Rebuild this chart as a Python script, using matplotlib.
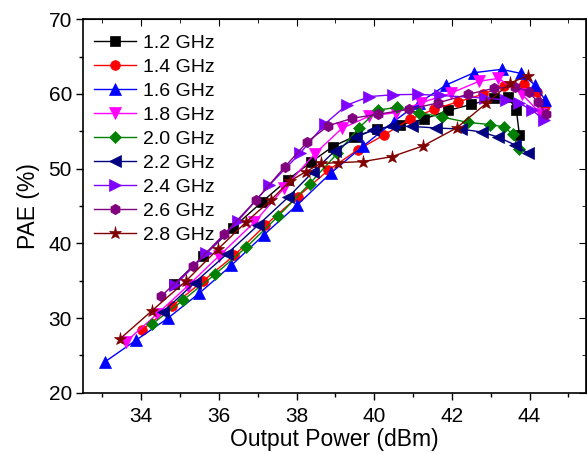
import matplotlib
matplotlib.use("Agg")
import matplotlib.pyplot as plt
from matplotlib.ticker import MultipleLocator

plt.rcParams['font.family'] = ['Liberation Sans', 'DejaVu Sans']

# PAE vs output power, one sweep per frequency
labels = ['1.2 GHz', '1.4 GHz', '1.6 GHz', '1.8 GHz', '2.0 GHz',
          '2.2 GHz', '2.4 GHz', '2.6 GHz', '2.8 GHz']

pout_12 = [34.85, 35.6, 36.37, 37.12, 37.77, 38.38, 38.93, 39.48, 40.08, 40.67,
           41.29, 41.91, 42.5, 43.08, 43.45, 43.66, 43.74]
pae_12 = [34.5, 38.3, 42.1, 45.6, 48.5, 50.9, 52.95, 54.3, 55.3, 55.85,
          56.65, 57.8, 58.6, 59.4, 59.55, 57.9, 54.5]

pout_14 = [34.02, 34.79, 35.58, 36.4, 37.2, 38.03, 38.82, 39.57, 40.25, 40.92,
           41.54, 42.16, 42.79, 43.35, 43.85, 44.2, 44.4]
pae_14 = [28.4, 31.6, 34.9, 38.4, 42.45, 46.25, 49.8, 52.5, 54.5, 56.6,
          57.95, 58.95, 59.95, 61.1, 61.3, 60.3, 58.4]

pout_16 = [33.07, 33.87, 34.68, 35.49, 36.32, 37.15, 38.02, 38.88, 39.71, 40.5,
           41.15, 41.85, 42.57, 43.28, 43.78, 44.14, 44.4]
pae_16 = [24.15, 27.05, 29.95, 33.3, 37.05, 41.1, 45.15, 49.4, 53.0, 56.3,
          58.8, 61.2, 62.85, 63.3, 62.75, 61.2, 59.2]

pout_18 = [33.6, 34.4, 35.2, 36.0, 36.91, 37.68, 38.47, 39.17, 39.86, 40.55,
           41.2, 41.97, 42.7, 43.2, 43.8, 44.3]
pae_18 = [26.8, 30.5, 34.3, 38.3, 42.8, 47.4, 52.0, 55.4, 57.0, 57.5,
          58.8, 60.1, 61.7, 62.1, 60.0, 57.3]

pout_20 = [34.28, 35.08, 35.9, 36.71, 37.53, 38.34, 39.05, 39.61, 40.1, 40.58,
           41.16, 41.75, 42.41, 42.99, 43.34, 43.57, 43.73]
pae_20 = [29.2, 32.4, 35.85, 39.5, 43.65, 48.0, 52.05, 55.5, 57.85, 58.2,
          57.5, 56.9, 56.2, 55.9, 55.6, 54.6, 52.6]

pout_22 = [34.57, 35.38, 36.2, 37.0, 37.78, 38.43, 38.99, 39.54, 39.97, 40.45,
           40.98, 41.6, 42.23, 42.78, 43.2, 43.62, 43.97]
pae_22 = [30.85, 34.75, 38.55, 42.4, 46.15, 49.6, 52.4, 54.2, 55.2, 55.7,
          55.65, 55.45, 55.3, 54.9, 54.2, 53.2, 52.05]

pout_24 = [34.87, 35.68, 36.49, 37.3, 38.09, 38.73, 39.29, 39.87, 40.48, 41.12,
           41.7, 42.85, 43.4, 43.72, 44.07, 44.37]
pae_24 = [34.4, 38.65, 43.0, 47.8, 52.05, 56.0, 58.5, 59.65, 59.9, 59.95,
          59.8, 59.45, 59.2, 58.8, 57.85, 56.5]

pout_26 = [34.52, 35.33, 36.13, 36.96, 37.69, 38.28, 38.82, 39.44, 40.11, 40.9,
           41.64, 42.41, 43.08, 43.62, 43.98, 44.21, 44.43]
pae_26 = [32.95, 36.9, 41.2, 45.8, 50.2, 53.6, 55.75, 56.75, 57.3, 57.95,
          58.8, 59.95, 60.75, 61.0, 60.3, 58.95, 57.3]

pout_28 = [33.44, 34.28, 35.15, 35.97, 36.71, 37.34, 37.82, 38.24, 38.62, 39.07,
           39.71, 40.45, 41.26, 42.12, 42.89, 43.51, 43.97]
pae_28 = [27.15, 31.0, 34.95, 39.2, 42.9, 45.8, 48.3, 49.6, 50.7, 50.8,
          50.95, 51.6, 53.05, 55.45, 58.75, 61.5, 62.45]

pouts = [pout_12, pout_14, pout_16, pout_18, pout_20, pout_22, pout_24, pout_26, pout_28]
paes = [pae_12, pae_14, pae_16, pae_18, pae_20, pae_22, pae_24, pae_26, pae_28]

colors = ['#000000', '#FF0000', '#0000FF', '#FF00FF', '#008000',
          '#000080', '#8000FF', '#800080', '#800000']
markers = ['s', 'o', '^', 'v', 'D', '<', '>', 'h', '*']
sizes = [6.5, 7, 8, 8, 6, 8, 8, 7.5, 9.5]

fig = plt.figure(figsize=(5.87, 4.53), dpi=100)
ax = fig.add_axes([0.1414, 0.1331, 0.8566, 0.8243])

for x, y, c, m, s, lab in zip(pouts, paes, colors, markers, sizes, labels):
    ax.plot(x, y, color=c, marker=m, markersize=s, linewidth=1,
            markeredgewidth=0.5, label=lab)

ax.set_xlim(32.5, 45.45)
ax.set_ylim(20, 70)
ax.xaxis.set_major_locator(MultipleLocator(2))
ax.xaxis.set_minor_locator(MultipleLocator(1))
ax.yaxis.set_major_locator(MultipleLocator(10))
ax.yaxis.set_minor_locator(MultipleLocator(5))

ax.tick_params(which='both', direction='out', labelsize=15, width=1)
ax.tick_params(which='major', length=5)
ax.tick_params(which='minor', length=3)
ax.tick_params(axis='x', pad=5)
ax.tick_params(axis='y', pad=3)
for sp in ax.spines.values():
    sp.set_linewidth(1.2)

# mirrored ticks on top and right, pointing inward
ax_top = ax.secondary_xaxis('top')
ax_top.xaxis.set_major_locator(MultipleLocator(2))
ax_top.xaxis.set_minor_locator(MultipleLocator(1))
ax_top.tick_params(which='both', direction='in', labeltop=False)
ax_top.tick_params(which='major', length=5)
ax_top.tick_params(which='minor', length=3)
ax_right = ax.secondary_yaxis('right')
ax_right.yaxis.set_major_locator(MultipleLocator(10))
ax_right.yaxis.set_minor_locator(MultipleLocator(5))
ax_right.tick_params(which='both', direction='in', labelright=False)
ax_right.tick_params(which='major', length=5)
ax_right.tick_params(which='minor', length=3)

ax.set_xlabel('Output Power (dBm)', fontsize=16.5, labelpad=2)
ax.set_ylabel('PAE (%)', fontsize=16.5, labelpad=6)

ax.legend(loc='upper left', bbox_to_anchor=(0.021, 0.96), frameon=False,
          fontsize=14, handlelength=2.2, handletextpad=0.35,
          labelspacing=0.33, borderpad=0, borderaxespad=0)

fig.savefig('out.png', dpi=100)
